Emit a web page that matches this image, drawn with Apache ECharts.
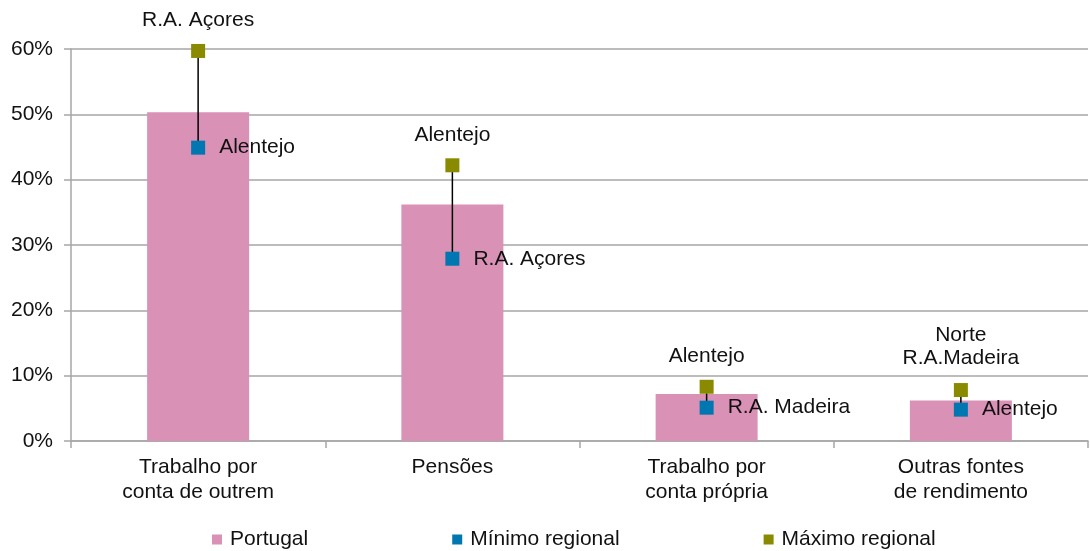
<!DOCTYPE html>
<html>
<head>
<meta charset="utf-8">
<script src="https://cdn.jsdelivr.net/npm/echarts@6/dist/echarts.min.js"></script>
<style>
  html, body { margin: 0; padding: 0; background: #fff; }
  #chart { width: 1090px; height: 551px; }
</style>
</head>
<body>
<div id="chart"></div>
<script>
// categorias e valores (%)
var categories = ['Trabalho por\nconta de outrem', 'Pensões', 'Trabalho por\nconta própria', 'Outras fontes\nde rendimento'];
var portugal = [50.3, 36.2, 7.2, 6.2];
var minRegional = [44.9, 27.9, 5.1, 4.8];
var maxRegional = [59.7, 42.2, 8.3, 7.8];
var minRegion = ['Alentejo', 'R.A. Açores', 'R.A. Madeira', 'Alentejo'];
var maxRegion = ['R.A. Açores', 'Alentejo', 'Alentejo', 'Norte\nR.A.Madeira'];
var yTicks = [0, 10, 20, 30, 40, 50, 60];

var font = 'Liberation Sans, Arial, sans-serif';
var txt = '#111';
var gridColor = '#a6a6a6';

var chart = echarts.init(document.getElementById('chart'));

var errBars = categories.map(function (c, i) {
  return [i, minRegional[i], maxRegional[i]];
});

var option = {
  animation: false,
  textStyle: { fontFamily: font, color: txt },
  grid: { left: 71, right: 2, top: 49, bottom: 110, containLabel: false },
  legend: {
    data: ['Portugal', 'Mínimo regional', 'Máximo regional'],
    left: 207,
    top: 524,
    itemWidth: 10,
    itemHeight: 10,
    itemGap: 144,
    icon: 'rect',
    textStyle: { fontFamily: font, fontSize: 21, color: txt, padding: [0, 0, 0, 3] }
  },
  xAxis: {
    type: 'category',
    data: categories,
    axisLine: { lineStyle: { color: gridColor, width: 1.5 } },
    axisTick: { show: true, length: 7, lineStyle: { color: gridColor, width: 1.5 } },
    axisLabel: { fontSize: 21, color: txt, margin: 14, lineHeight: 25, fontFamily: font }
  },
  yAxis: {
    type: 'value',
    min: yTicks[0],
    max: yTicks[yTicks.length - 1],
    interval: 10,
    axisLine: { show: true, lineStyle: { color: gridColor, width: 1.5 } },
    axisTick: { show: true, length: 7, lineStyle: { color: gridColor, width: 1.5 } },
    axisLabel: { formatter: '{value}%', fontSize: 21, color: txt, margin: 18, fontFamily: font },
    splitLine: { lineStyle: { color: gridColor, width: 1.5 } }
  },
  series: [
    {
      name: 'Portugal',
      type: 'bar',
      data: portugal,
      barWidth: 102,
      itemStyle: { color: '#d991b6' },
      z: 2
    },
    {
      name: 'erro',
      type: 'custom',
      data: errBars,
      z: 3,
      renderItem: function (params, api) {
        var p1 = api.coord([api.value(0), api.value(1)]);
        var p2 = api.coord([api.value(0), api.value(2)]);
        return {
          type: 'line',
          shape: { x1: p1[0], y1: p1[1], x2: p2[0], y2: p2[1] },
          style: { stroke: '#000', lineWidth: 1.5 }
        };
      }
    },
    {
      name: 'Mínimo regional',
      type: 'scatter',
      data: minRegional,
      symbol: 'rect',
      symbolSize: 14,
      itemStyle: { color: '#0077b0', opacity: 1 },
      z: 4,
      label: {
        show: true,
        position: 'right',
        distance: 14,
        fontSize: 21,
        color: txt,
        fontFamily: font,
        formatter: function (p) { return minRegion[p.dataIndex]; }
      }
    },
    {
      name: 'Máximo regional',
      type: 'scatter',
      data: maxRegional.map(function (v, i) {
        var d = { value: v };
        if (i === 3) d.label = { backgroundColor: '#fff', lineHeight: 23, padding: [0, 4] };
        return d;
      }),
      symbol: 'rect',
      symbolSize: 14,
      itemStyle: { color: '#8a8a00', opacity: 1 },
      z: 4,
      label: {
        show: true,
        position: 'top',
        distance: 13,
        fontSize: 21,
        color: txt,
        fontFamily: font,
        formatter: function (p) { return maxRegion[p.dataIndex]; }
      }
    }
  ]
};

chart.setOption(option);
</script>
</body>
</html>
